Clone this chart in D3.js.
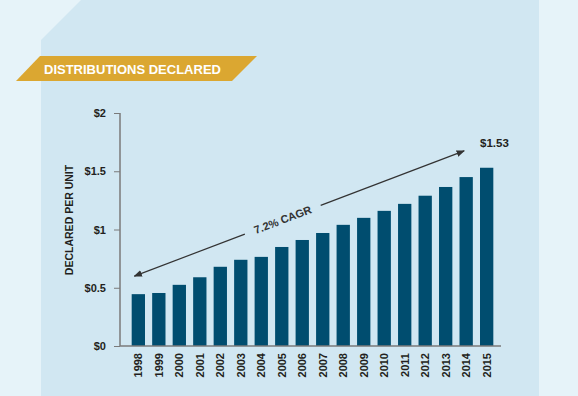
<!DOCTYPE html>
<html>
<head>
<meta charset="utf-8">
<script src="https://cdn.jsdelivr.net/npm/d3@7"></script>
<style>
  body { margin: 0; background: #e6f3f9; }
  svg { display: block; font-family: 'Liberation Sans', Arial, sans-serif; }
</style>
</head>
<body>
<script>
const years = ['1998', '1999', '2000', '2001', '2002', '2003', '2004', '2005', '2006',
  '2007', '2008', '2009', '2010', '2011', '2012', '2013', '2014', '2015'];
const declared = [0.445, 0.455, 0.525, 0.59, 0.68, 0.74, 0.765, 0.85, 0.91,
  0.97, 1.04, 1.10, 1.16, 1.22, 1.29, 1.365, 1.45, 1.53];
const yTicks = [0, 0.5, 1, 1.5, 2];
const tickLabels = ['$0', '$0.5', '$1', '$1.5', '$2'];

const width = 578, height = 396;

const svg = d3.select('body').append('svg')
  .attr('width', width)
  .attr('height', height);

// panel with clipped corner
svg.append('path')
  .attr('d', 'M41,40 L81,0 L539,0 L539,396 L41,396 Z')
  .attr('fill', '#d1e7f2');

// title banner
svg.append('path')
  .attr('d', 'M40,56 L257,56 L232,81 L16,81 Z')
  .attr('fill', '#dba731');
svg.append('text')
  .attr('x', 44)
  .attr('y', 74)
  .attr('fill', '#fff')
  .style('font-size', '13px')
  .style('font-weight', 'bold')
  .text('DISTRIBUTIONS DECLARED');

const x = d3.scaleBand()
  .domain(years)
  .range([120, 505])
  .paddingInner(0.35)
  .paddingOuter(0.57);

const y = d3.scaleLinear()
  .domain([0, 2])
  .range([346, 113]);

// bars
svg.append('g')
  .selectAll('rect')
  .data(declared)
  .enter().append('rect')
  .attr('x', (d, i) => x(years[i]))
  .attr('y', d => y(d))
  .attr('width', x.bandwidth())
  .attr('height', d => y(0) - y(d))
  .attr('fill', '#004d6f');

// y axis
const yAxis = svg.append('g')
  .attr('transform', 'translate(120,0)')
  .call(d3.axisLeft(y).tickValues(yTicks).tickSize(6).tickPadding(8)
    .tickFormat((d, i) => tickLabels[i]));
yAxis.select('.domain').attr('stroke', '#7a7a7a').attr('stroke-width', 1.5)
  .attr('d', 'M0,' + y(2) + 'V' + y(0));
yAxis.selectAll('.tick line').attr('stroke', '#7a7a7a');
yAxis.selectAll('.tick text')
  .attr('fill', '#231f20')
  .style('font-size', '11px')
  .style('font-weight', 'bold');

// x axis
const xAxis = svg.append('g')
  .attr('transform', 'translate(0,' + y(0) + ')')
  .call(d3.axisBottom(x).tickSize(0).tickPadding(6));
xAxis.select('.domain').attr('stroke', '#7a7a7a').attr('stroke-width', 1.5)
  .attr('d', 'M120,0H501');
xAxis.selectAll('.tick text')
  .attr('transform', 'rotate(-90)')
  .attr('text-anchor', 'end')
  .attr('x', -7)
  .attr('y', 0)
  .attr('dy', '0.35em')
  .attr('fill', '#231f20')
  .style('font-size', '11px')
  .style('font-weight', 'bold');

// y axis title
svg.append('text')
  .attr('transform', 'translate(73,' + 220 + ')rotate(-90)')
  .attr('text-anchor', 'middle')
  .attr('fill', '#231f20')
  .style('font-size', '10.5px')
  .style('font-weight', 'bold')
  .text('DECLARED PER UNIT');

// CAGR arrow
const defs = svg.append('defs');
defs.append('marker')
  .attr('id', 'arr')
  .attr('viewBox', '0 0 10 10')
  .attr('refX', 9).attr('refY', 5)
  .attr('markerWidth', 7).attr('markerHeight', 7)
  .attr('orient', 'auto-start-reverse')
  .append('path')
  .attr('d', 'M0,1 L10,5 L0,9 Z')
  .attr('fill', '#333');

const a0 = [x('1998') - 1 + x.bandwidth() / 2 - 3, y(0.6)];
const a1 = [x('2014') + x.bandwidth() / 2 - 2, y(1.675)];
const ang = Math.atan2(a1[1] - a0[1], a1[0] - a0[0]);
const mid = (t) => [a0[0] + (a1[0] - a0[0]) * t, a0[1] + (a1[1] - a0[1]) * t];
const g1 = mid(0.335), g2 = mid(0.565);

svg.append('line')
  .attr('x1', g1[0]).attr('y1', g1[1])
  .attr('x2', a0[0]).attr('y2', a0[1])
  .attr('stroke', '#333').attr('stroke-width', 1.2)
  .attr('marker-end', 'url(#arr)');
svg.append('line')
  .attr('x1', g2[0]).attr('y1', g2[1])
  .attr('x2', a1[0]).attr('y2', a1[1])
  .attr('stroke', '#333').attr('stroke-width', 1.2)
  .attr('marker-end', 'url(#arr)');

const tc = mid(0.45);
svg.append('text')
  .attr('transform', 'translate(' + tc[0] + ',' + tc[1] + ')rotate(' + (ang * 180 / Math.PI) + ')')
  .attr('text-anchor', 'middle')
  .attr('dy', '0.35em')
  .attr('fill', '#333')
  .style('font-size', '11px')
  .style('font-weight', 'bold')
  .text('7.2% CAGR');

// end value label
svg.append('text')
  .attr('x', x('2015'))
  .attr('y', 147)
  .attr('fill', '#231f20')
  .style('font-size', '11.5px')
  .style('font-weight', 'bold')
  .text('$' + declared[declared.length - 1].toFixed(2));
</script>
</body>
</html>
